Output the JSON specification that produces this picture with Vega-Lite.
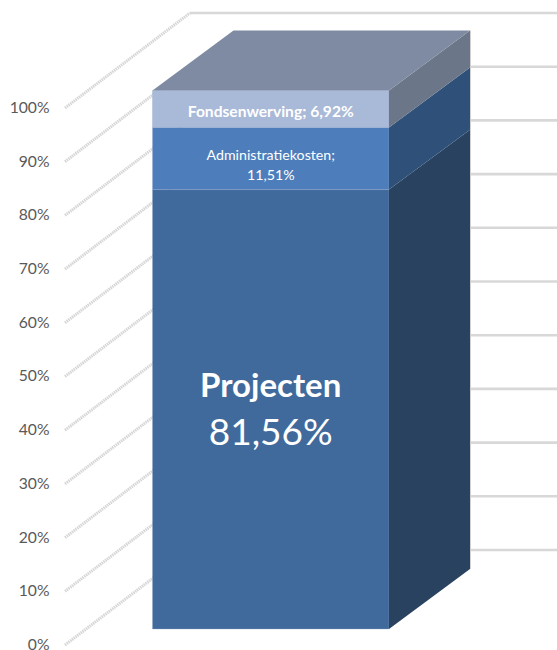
{
"$schema":"https://vega.github.io/schema/vega-lite/v6.json",
"width":557,"height":650,"padding":0,"autosize":{"type":"none"},
"background":"white",
"config":{"view":{"stroke":null},"font":"Lato"},
"datasets":{
"muur":[{"niveau":0},{"niveau":10},{"niveau":20},{"niveau":30},{"niveau":40},{"niveau":50},{"niveau":60},{"niveau":70},{"niveau":80},{"niveau":90},{"niveau":100}],
"voorvlak":[
{"reeks":"Projecten","aandeel":81.56,"onder":2.98,"boven":84.8},
{"reeks":"Administratiekosten","aandeel":11.51,"onder":84.8,"boven":96.37},
{"reeks":"Fondsenwerving","aandeel":6.92,"onder":96.37,"boven":103.26}],
"zijvlak":[
{"reeks":"Projecten","diepte":1,"onder":2.98,"boven":84.8},
{"reeks":"Projecten","diepte":1.3425,"onder":14.15,"boven":95.97},
{"reeks":"Administratiekosten","diepte":1,"onder":84.8,"boven":96.37},
{"reeks":"Administratiekosten","diepte":1.3425,"onder":95.97,"boven":107.54},
{"reeks":"Fondsenwerving","diepte":1,"onder":96.37,"boven":103.26},
{"reeks":"Fondsenwerving","diepte":1.3425,"onder":107.54,"boven":114.43}],
"bovenvlak":[
{"diepte":0,"onder":103.26,"boven":103.26},
{"diepte":0.3425,"onder":103.26,"boven":114.43},
{"diepte":1,"onder":103.26,"boven":114.43},
{"diepte":1.3425,"onder":114.43,"boven":114.43}]
},
"layer":[
{"data":{"name":"muur"},"transform":[{"calculate":"datum.niveau+17.69","as":"achter"},{"calculate":"0.1586","as":"start"},{"calculate":"1.7104","as":"eind"}],
"mark":{"type":"rule","color":"#d8d8d8","strokeWidth":2.6},
"encoding":{
"x":{"field":"start","type":"quantitative","scale":{"domain":[-0.6448,1.7104],"nice":false,"zero":false},"axis":null},
"x2":{"field":"eind"},
"y":{"field":"achter","type":"quantitative","scale":{"domain":[-0.93,120.11],"nice":false,"zero":false},
"axis":{"orient":"left","title":null,"offset":-52,"values":[0,10,20,30,40,50,60,70,80,90,100],"labelExpr":"datum.value+'%'","domain":false,"ticks":false,"grid":false,"labelPadding":3,"labelFontSize":15.7,"labelColor":"#595959","labelFont":"Lato","labelBaseline":"alphabetic","labelOffset":4.5}},
"y2":{"field":"achter"}}},
{"data":{"name":"muur"},"transform":[{"calculate":"datum.niveau+17.69","as":"achter"},{"calculate":"0.1586","as":"start"},{"calculate":"-0.37","as":"links"}],
"mark":{"type":"rule","color":"#d6d6d6","strokeWidth":3,"strokeDash":[1.5,0.7]},
"encoding":{
"x":{"field":"links","type":"quantitative"},"x2":{"field":"start"},
"y":{"field":"niveau","type":"quantitative"},"y2":{"field":"achter"}}},
{"data":{"values":[{"p":1.3445,"o":14.15,"b":114.43}]},
"mark":{"type":"rule","color":"#cfcfcf","strokeWidth":1},
"encoding":{"x":{"field":"p","type":"quantitative"},"y":{"field":"o","type":"quantitative"},"y2":{"field":"b"}}},
{"data":{"name":"voorvlak"},
"mark":{"type":"rect","strokeWidth":1,"stroke":"#8ea6c8","strokeOpacity":0.3},
"transform":[{"calculate":"0","as":"l"},{"calculate":"1","as":"r"}],
"encoding":{
"x":{"field":"l","type":"quantitative"},"x2":{"field":"r"},
"y":{"field":"onder","type":"quantitative"},"y2":{"field":"boven"},
"color":{"field":"reeks","type":"nominal","legend":null,"scale":{"domain":["Projecten","Administratiekosten","Fondsenwerving"],"range":["#416A9C","#4D7EBB","#A9B9D8"]}}}},
{"data":{"name":"zijvlak"},
"mark":{"type":"area","opacity":1},
"encoding":{
"x":{"field":"diepte","type":"quantitative"},
"y":{"field":"onder","type":"quantitative","stack":null},"y2":{"field":"boven"},
"fill":{"field":"reeks","type":"nominal","legend":null,"scale":{"domain":["Projecten","Administratiekosten","Fondsenwerving"],"range":["#28425F","#2F5179","#6B7788"]}}}},
{"data":{"name":"bovenvlak"},
"mark":{"type":"area","color":"#7F8BA3"},
"encoding":{
"x":{"field":"diepte","type":"quantitative"},
"y":{"field":"onder","type":"quantitative","stack":null},"y2":{"field":"boven"}}},
{"data":{"values":[{"t":"Fondsenwerving; 6,92%","p":0.5,"n":99.3}]},
"mark":{"type":"text","color":"white","fontSize":15.6,"fontWeight":"bold","baseline":"middle","align":"center"},
"encoding":{"x":{"field":"p","type":"quantitative"},"y":{"field":"n","type":"quantitative"},"text":{"field":"t"}}},
{"data":{"values":[{"t":"Administratiekosten;","p":0.5,"n":91.05},{"t":"11,51%","p":0.5,"n":87.3}]},
"mark":{"type":"text","color":"white","fontSize":14.2,"baseline":"middle","align":"center"},
"encoding":{"x":{"field":"p","type":"quantitative"},"y":{"field":"n","type":"quantitative"},"text":{"field":"t"}}},
{"data":{"values":[{"t":"Projecten","p":0.5,"n":48.0}]},
"mark":{"type":"text","color":"white","fontSize":33,"fontWeight":"bold","baseline":"middle","align":"center"},
"encoding":{"x":{"field":"p","type":"quantitative"},"y":{"field":"n","type":"quantitative"},"text":{"field":"t"}}},
{"data":{"values":[{"t":"81,56%","p":0.5,"n":39.3}]},
"mark":{"type":"text","color":"white","fontSize":37,"baseline":"middle","align":"center"},
"encoding":{"x":{"field":"p","type":"quantitative"},"y":{"field":"n","type":"quantitative"},"text":{"field":"t"}}}
]
}
